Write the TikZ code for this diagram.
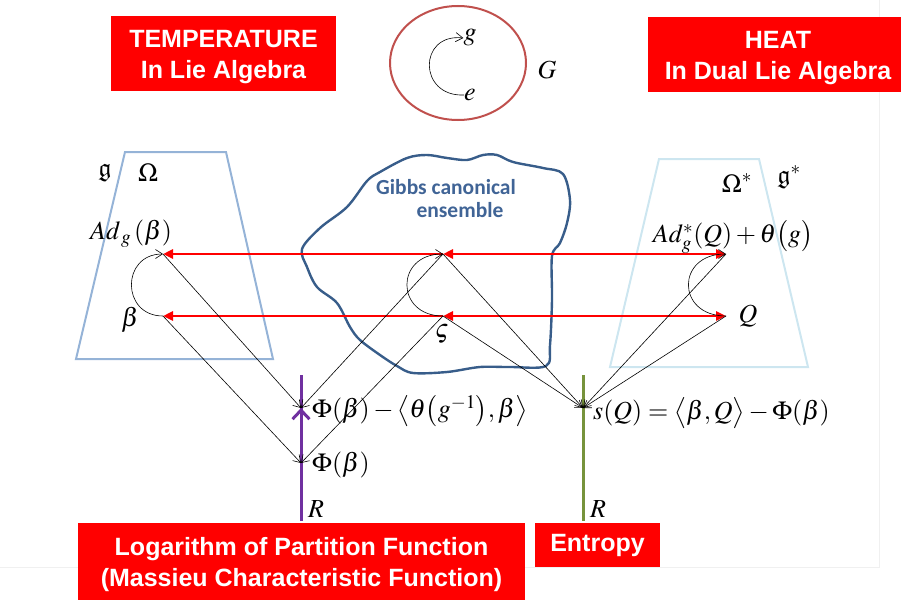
\documentclass[tikz,border=0pt]{standalone}
\usepackage{amssymb}
\usepackage{mathptmx}
\usepackage{bm}
\usepackage{fontspec}
\newfontfamily\arialfont{Liberation Sans}
\newfontfamily\calibrifont{Carlito}
\usetikzlibrary{arrows.meta}
\definecolor{slidered}{RGB}{255,0,0}
\definecolor{groupred}{RGB}{192,80,77}
\definecolor{algblue}{RGB}{149,179,215}
\definecolor{dualblue}{RGB}{205,230,240}
\definecolor{blobblue}{RGB}{56,93,138}
\definecolor{gibbstext}{RGB}{64,100,150}
\definecolor{logpurple}{RGB}{112,48,160}
\definecolor{entgreen}{RGB}{119,147,60}
\newcommand{\tallstrut}{\rule{0pt}{24pt}}

\begin{document}
\begin{tikzpicture}[x=1pt, y=-1pt,
    redbox/.style={fill=slidered, text=white, font=\arialfont\bfseries\fontsize{25}{31}\selectfont, align=center, inner sep=0pt},
    lbl/.style={font=\fontsize{26}{30}\selectfont, inner sep=0pt},
    trap/.style={line width=2pt, line join=miter},
    link/.style={-{Straight Barb[length=7pt,width=9pt]}, line width=0.6pt},
    act/.style={line width=2.8pt, draw=slidered, -{Triangle[length=10pt,width=9pt]}},
    actboth/.style={line width=2.8pt, draw=slidered, {Triangle[length=10pt,width=9pt]}-{Triangle[length=10pt,width=9pt]}},
    axis/.style={line width=3pt}
]
\useasboundingbox (0,0) rectangle (901,599);

% Slide frame
\draw[gray!12, line width=1pt] (879,0) -- (879,567) -- (0,567);

% Title boxes
\node[redbox, minimum width=225pt, minimum height=75pt] (temp) at (223.5,54) {\tallstrut TEMPERATURE\\In Lie Algebra};
\node[redbox, minimum width=260pt, minimum height=75pt] (heat) at (778,54.5) {\tallstrut HEAT\\In Dual Lie Algebra};

% Group
\draw[groupred, line width=2pt] (458,63) ellipse (68 and 57);
\node[lbl] (gg) at (470,38) {$g$};
\node[lbl] (ge) at (470,95) {$e$};
\node[lbl] (gG) at (547,70) {$G$};
\draw[link] (ge.west) .. controls (418,97) and (418,33) .. (gg.west);

% Lie algebra and its dual
\draw[trap, algblue] (125,152) -- (226,152) -- (273,359) -- (76,359) -- cycle;
\draw[trap, dualblue] (659,159) -- (759,159) -- (808,367) -- (610,367) -- cycle;
\node[lbl] (frakg) at (105,173) {$\bm{\mathfrak{g}}$};
\node[lbl] (omega) at (148,173) {$\Omega$};
\node[lbl] (omegas) at (737,183) {$\Omega^{*}$};
\node[lbl] (frakgs) at (789,177) {$\bm{\mathfrak{g}}^{*}$};

% Gibbs canonical ensemble
\draw[blobblue, line width=2.4pt] plot[smooth cycle, tension=0.55] coordinates {
    (302,249) (320,228) (347,207) (367,181) (380,172) (407,158) (427,155)
    (447,158) (467,160) (483,155) (497,155) (513,162) (543,168) (563,174)
    (570,200) (567,223) (560,243) (552,256) (552,300) (550,345) (546,366)
    (510,367) (480,367) (447,372) (413,373) (397,366) (380,355) (360,340)
    (350,327) (337,303) (317,287) (307,267)};
\node[font=\calibrifont\bfseries\fontsize{21.5}{24}\selectfont, text=gibbstext] (gibbs1) at (446,187) {Gibbs canonical};
\node[font=\calibrifont\bfseries\fontsize{21.5}{24}\selectfont, text=gibbstext] (gibbs2) at (460,210) {ensemble};

% Points
\coordinate (adb) at (163,254);
\coordinate (b) at (163,316);
\coordinate (mt) at (443,254);
\coordinate (mb) at (443,316);
\coordinate (adq) at (726,254);
\coordinate (q) at (726,316);
\coordinate (phitheta) at (301,408);
\coordinate (phi) at (301,463);
\coordinate (s) at (583,408);
\coordinate (rtop) at (301,375);
\coordinate (rbot) at (301,521);
\coordinate (stop) at (583,375);
\coordinate (sbot) at (583,521);

% Labels
\node[lbl] (adbl) at (131,234) {$Ad_{\,g}\,(\beta)$};
\node[lbl] (bl) at (130,320) {$\beta$};
\node[lbl] (sigl) at (442,334) {$\varsigma$};
\node[lbl] (adql) at (733,237) {$Ad^{*}_{g}(Q)+\theta\bigl(g\bigr)$};
\node[lbl] (ql) at (748,316) {$Q$};

% Red actions
\draw[act] (mt) -- (adb);
\draw[actboth] (mt) -- (adq);
\draw[act] (mb) -- (b);
\draw[actboth] (mb) -- (q);

% Orbits
\draw[link] (b) .. controls (121,316) and (121,254) .. (adb);
\draw[link] (mb) .. controls (395,316) and (395,254) .. (mt);
\draw[link] (q) .. controls (676,316) and (676,254) .. (adq);

% Vertical axes
\draw[axis, logpurple] (rtop) -- (rbot);
\draw[axis, logpurple, -{Straight Barb[length=9pt,width=17pt]}] (rbot) -- (phitheta);
\draw[axis, entgreen] (stop) -- (sbot);

% Maps
\draw[link] (adb) -- (phitheta);
\draw[link] (mt) -- (phitheta);
\draw[link] (b) -- (phi);
\draw[link] (mb) -- (phi);
\draw[link] (mt) -- (s);
\draw[link] (mb) -- (s);
\draw[link] (adq) -- (s);
\draw[link] (q) -- (s);

\node[lbl, anchor=west] (phithetal) at (312,411) {$\Phi(\beta)-\bigl\langle\theta\bigl(g^{-1}\bigr),\beta\bigr\rangle$};
\node[lbl, anchor=west] (phil) at (312,465) {$\Phi(\beta)$};
\node[lbl, anchor=west] (sl) at (593,413) {$s(Q)=\bigl\langle\beta,Q\bigr\rangle-\Phi(\beta)$};
\node[lbl, anchor=west] (rl) at (308,509) {$R$};
\node[lbl, anchor=west] (rs) at (590,509) {$R$};

% Bottom boxes
\node[redbox, minimum width=447pt, minimum height=77pt] (logz) at (301.5,561.5) {\tallstrut Logarithm of Partition Function\\(Massieu Characteristic Function)};
\node[redbox, minimum width=125pt, minimum height=44pt] (entropy) at (597.5,545) {Entropy};

\end{tikzpicture}
\end{document}
